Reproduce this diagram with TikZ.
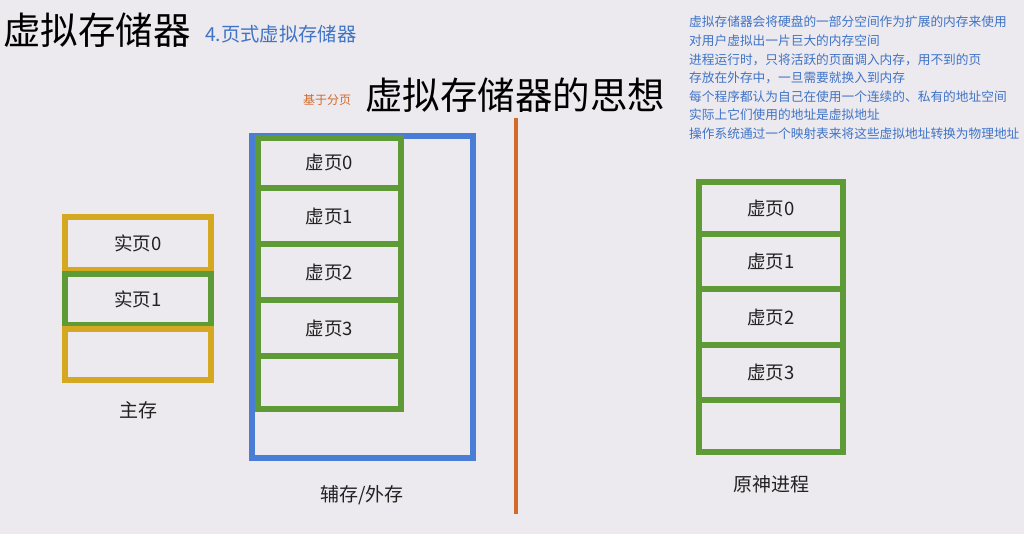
\documentclass[tikz,border=0pt]{standalone}
\usepackage{fontspec}
\setmainfont{Noto Sans CJK SC}
\definecolor{bgc}{HTML}{ECE9EF}
\definecolor{ylw}{HTML}{D5A822}
\definecolor{grn}{HTML}{5E9B36}
\definecolor{blu}{HTML}{4A7ED6}
\definecolor{org}{HTML}{D36A2A}
\definecolor{txtblue}{HTML}{3F74C6}
\definecolor{ink}{HTML}{222222}
\begin{document}
\begin{tikzpicture}[x=1pt,y=-1pt,
  cell/.style={draw, line width=5.4pt, rectangle, inner sep=0pt, outer sep=0pt, minimum width=#1},
  lab/.style={text=ink, font=\fontsize{18.5}{21}\selectfont, inner sep=0pt},
  captext/.style={text=ink, font=\fontsize{19}{22}\selectfont, inner sep=0pt}]
\useasboundingbox[fill=bgc] (0,0) rectangle (1024,534);

% titles
\node[anchor=west, inner sep=0pt, font=\fontsize{37.5}{42}\selectfont, text=black] (title) at (3,30) {虚拟存储器};
\node[anchor=west, inner sep=0pt, font=\fontsize{19.3}{22}\selectfont, text=txtblue] (sub) at (205,34) {4.页式虚拟存储器};
\node[anchor=west, inner sep=0pt, font=\fontsize{12}{14}\selectfont, text=org] (basis) at (303,100) {基于分页};
\node[anchor=west, inner sep=0pt, font=\fontsize{37.5}{42}\selectfont, text=black] (idea) at (365,95) {虚拟存储器的思想};

\node[anchor=north west, inner sep=0pt, align=left, text=txtblue, font=\fontsize{12.7}{18.6}\selectfont] (notes) at (689,16) {虚拟存储器会将硬盘的一部分空间作为扩展的内存来使用\\对用户虚拟出一片巨大的内存空间\\进程运行时，只将活跃的页面调入内存，用不到的页\\存放在外存中，一旦需要就换入到内存\\每个程序都认为自己在使用一个连续的、私有的地址空间\\实际上它们使用的地址是虚拟地址\\操作系统通过一个映射表来将这些虚拟地址转换为物理地址};

% main memory
\node[cell=146pt, minimum height=53pt, draw=ylw] (m0) at (138,243.5) {};
\node[cell=146pt, minimum height=51pt, draw=grn] (m1) at (138,299.5) {};
\node[cell=146pt, minimum height=51pt, draw=ylw] (m2) at (138,354.5) {};
\node[lab] at (m0.center) {实页0};
\node[lab] at (m1.center) {实页1};
\node[captext] (mlab) at (138,410) {主存};

% secondary storage
\node[cell=221pt, minimum height=322pt, draw=blu] (disk) at (362.5,297) {};
\node[cell=143pt, minimum height=50pt, draw=grn] (d0) at (329.5,163) {};
\node[cell=143pt, minimum height=56pt, draw=grn] (d1) at (329.5,216) {};
\node[cell=143pt, minimum height=56pt, draw=grn] (d2) at (329.5,272) {};
\node[cell=143pt, minimum height=56pt, draw=grn] (d3) at (329.5,328) {};
\node[cell=143pt, minimum height=53pt, draw=grn] (d4) at (329.5,382.5) {};
\node[lab] at (d0.center) {虚页0};
\node[lab] at (d1.center) {虚页1};
\node[lab] at (d2.center) {虚页2};
\node[lab] at (d3.center) {虚页3};
\node[captext] (dlab) at (362,495) {辅存/外存};

% divider
\coordinate (divtop) at (516,118);
\coordinate (divbot) at (516,514);
\draw[org, line width=4.6pt] (divtop) -- (divbot);

% process
\node[cell=144pt, minimum height=52pt, draw=grn] (p0) at (771,208) {};
\node[cell=144pt, minimum height=55pt, draw=grn] (p1) at (771,261.5) {};
\node[cell=144pt, minimum height=56pt, draw=grn] (p2) at (771,317) {};
\node[cell=144pt, minimum height=55pt, draw=grn] (p3) at (771,372.5) {};
\node[cell=144pt, minimum height=52pt, draw=grn] (p4) at (771,426) {};
\node[lab] at (p0.center) {虚页0};
\node[lab] at (p1.center) {虚页1};
\node[lab] at (p2.center) {虚页2};
\node[lab] at (p3.center) {虚页3};
\node[captext] (plab) at (771,484) {原神进程};
\end{tikzpicture}
\end{document}
